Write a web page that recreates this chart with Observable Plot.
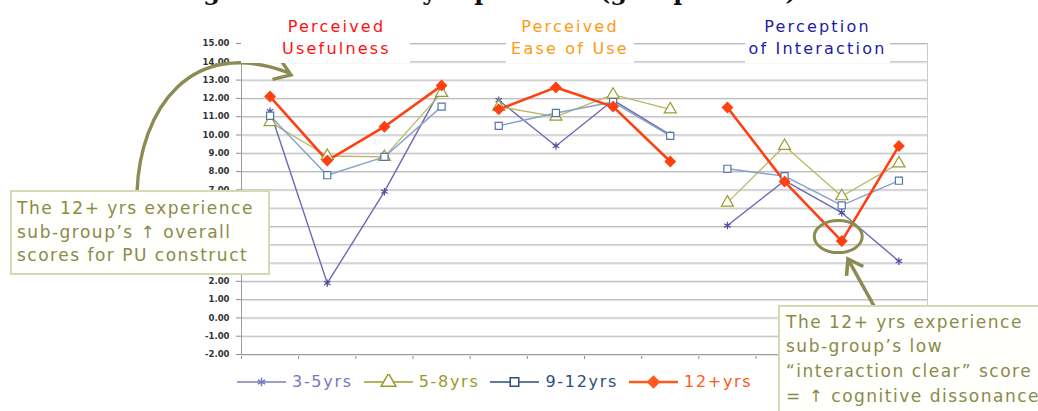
<!DOCTYPE html>
<html><head><meta charset="utf-8">
<script src="https://cdn.jsdelivr.net/npm/d3@7"></script>
<script src="https://cdn.jsdelivr.net/npm/@observablehq/plot@0.6"></script>
<style>
html,body{margin:0;padding:0;background:#fff;}
#wrap{position:relative;width:1038px;height:411px;overflow:hidden;font-family:"DejaVu Sans",Verdana,sans-serif;}
#plot{position:absolute;left:0;top:0;}
#over{position:absolute;left:0;top:0;}
.ctitle{position:absolute;background:#fff;font-size:16px;letter-spacing:2.2px;line-height:22px;text-align:center;white-space:nowrap;box-sizing:border-box;}
.note{position:absolute;background:#fffffb;border:2px solid #d8d8b6;color:#8a8a4c;font-size:17px;letter-spacing:1.5px;white-space:nowrap;box-sizing:border-box;}
#legend{position:absolute;left:237px;top:372px;display:flex;align-items:center;font-size:16px;letter-spacing:1.7px;}
#legend .item{display:flex;align-items:center;margin-right:11px;}
#legend svg{margin-right:6px;}
g[aria-label^="y-axis"] text{fill:#333;font-weight:bold;}
</style>
</head><body>
<div id="wrap">
  <div id="plot"></div>
  <svg id="over" width="1038" height="411"></svg>
</div>
<script>
// ---- data ----
const items = ["PU1","PU2","PU3","PU4","PEU1","PEU2","PEU3","PEU4","PI1","PI2","PI3","PI4"];
const itemGroup = ["PU","PU","PU","PU","PEU","PEU","PEU","PEU","PI","PI","PI","PI"];
const seriesNames = ["3-5yrs","5-8yrs","9-12yrs","12+yrs"];
const yrs3to5  = [11.3, 1.9, 6.9, 12.6, 11.9, 9.4, 11.9, 10.0, 5.05, 7.5, 5.75, 3.1];
const yrs5to8  = [10.7, 8.85, 8.8, 12.3, 11.55, 11.0, 12.2, 11.4, 6.3, 9.4, 6.65, 8.45];
const yrs9to12 = [11.05, 7.8, 8.8, 11.55, 10.5, 11.2, 11.8, 9.95, 8.15, 7.75, 6.15, 7.5];
const yrs12up  = [12.1, 8.6, 10.45, 12.7, 11.4, 12.6, 11.55, 8.55, 11.5, 7.45, 4.2, 9.4];
const yTicks = [-2,-1,0,1,2,3,4,5,6,7,8,9,10,11,12,13,14,15];
const constructTitles = [["Perceived","Usefulness"],["Perceived","Ease of Use"],["Perception","of Interaction"]];
const figureTitle = "Figure 3: Scores by experience (group means)";
const noteLeft = ["The 12+ yrs experience","sub-group\u2019s \u2191 overall","scores for PU construct"];
const noteRight = ["The 12+ yrs experience","sub-group\u2019s low","\u201Cinteraction clear\u201D score","= \u2191 cognitive dissonance"];

// ---- styles ----
const seriesValues = [yrs3to5, yrs5to8, yrs9to12, yrs12up];
const styles = [
  {line:"#6a6ab4", mark:"#4e4ea0", legend:"#7c7cc0", text:"#7878b8", symbol:"asterisk", r:3.5, fill:"none", sw:1.4, lr:4},
  {line:"#b8b866", mark:"#9c9c34", legend:"#9c9c2c", text:"#9a9a2a", symbol:"triangle", r:4.5, fill:"#fff", sw:1.3, lr:5.5},
  {line:"#86a2cc", mark:"#5676aa", legend:"#2d4d80", text:"#2d4d80", symbol:"square", r:4, fill:"#fff", sw:1.4, lr:4.8},
  {line:"#ff4010", mark:"#ff4010", legend:"#ff5a1a", text:"#ff5a1a", symbol:"diamond2", r:4.6, fill:"#ff4010", sw:2.6, lr:5.2}
];
const rows = seriesNames.map((s, si) => seriesValues[si].map((v, i) => ({series: s, item: items[i], idx: i, group: itemGroup[i], value: v})));

const marks = [
  Plot.ruleY(yTicks, {stroke: "#e4e4e4", dy: 1}),
  Plot.ruleY(yTicks, {stroke: "#b9b9b9"}),
  Plot.ruleX([items.length], {stroke: "#cccccc"}),
  Plot.ruleX([0], {stroke: "#9c9c9c"}),
  Plot.ruleY([-2], {stroke: "#9c9c9c"})
];
rows.forEach((r, si) => {
  const st = styles[si];
  marks.push(Plot.line(r, {x: d => d.idx + 0.5, y: "value", z: "group", stroke: st.line, strokeWidth: st.sw}));
});
rows.forEach((r, si) => {
  const st = styles[si];
  marks.push(Plot.dot(r, {x: d => d.idx + 0.5, y: "value", symbol: st.symbol, r: st.r, stroke: st.mark, fill: st.fill, strokeWidth: 1.2}));
});

const chart = Plot.plot({
  width: 1038, height: 411,
  marginLeft: 241, marginRight: 111, marginTop: 43, marginBottom: 57,
  x: {domain: [0, items.length], ticks: d3.range(items.length + 1), tickFormat: () => "", tickSize: 5, label: null},
  y: {domain: [-2, 15], ticks: yTicks, tickFormat: d => d.toFixed(2), tickSize: 5, tickPadding: 7, label: null},
  style: {fontFamily: "DejaVu Sans, sans-serif", fontSize: "8.5px", background: "transparent", color: "#8c8c8c"},
  marks
});
document.getElementById("plot").appendChild(chart);

const xs = chart.scale("x"), ys = chart.scale("y");
const wrap = document.getElementById("wrap");
const over = d3.select("#over");
const olive = "#8c8c52";

// clipped figure title at the very top (only descenders visible)
over.append("text").attr("x", 487).attr("y", 0).attr("text-anchor", "middle")
  .attr("font-family", "DejaVu Serif, serif").attr("font-weight", "bold").attr("font-size", 24).attr("fill", "#111")
  .text(figureTitle);

// construct titles
const titleBoxes = [
  {left: 241, width: 169, pad: 22, color: "#ff1010"},
  {left: 506, width: 128, pad: 0, color: "#ff9a10"},
  {left: 745, width: 145, pad: 0, color: "#1c1ca4"}
];
constructTitles.forEach((t, i) => {
  const b = titleBoxes[i];
  const div = document.createElement("div");
  div.className = "ctitle";
  div.style.left = b.left + "px"; div.style.width = b.width + "px";
  div.style.top = "16px"; div.style.paddingLeft = b.pad + "px"; div.style.paddingBottom = "3px";
  div.style.color = b.color;
  div.innerHTML = t.join("<br>");
  wrap.appendChild(div);
});

// ellipse around low point
const lowIdx = 10;
const cx = xs.apply(lowIdx + 0.5) - 3, cy = ys.apply(yrs12up[lowIdx]) - 4;
over.append("ellipse").attr("cx", cx).attr("cy", cy).attr("rx", 24).attr("ry", 16)
  .attr("fill", "none").attr("stroke", olive).attr("stroke-width", 3);

// arrows
function chevron(tx, ty, angle, len, spread) {
  const a1 = angle + Math.PI - spread, a2 = angle + Math.PI + spread;
  return `M${tx + len*Math.cos(a1)},${ty + len*Math.sin(a1)}L${tx},${ty}L${tx + len*Math.cos(a2)},${ty + len*Math.sin(a2)}`;
}
over.append("path").attr("d", "M137,192C140,110 190,35 289,73").attr("fill", "none").attr("stroke", olive).attr("stroke-width", 3.4);
over.append("path").attr("d", chevron(291, 75, Math.atan2(38, 99), 19, 0.6)).attr("fill", "none").attr("stroke", olive).attr("stroke-width", 3.4).attr("stroke-linejoin", "miter");
over.append("path").attr("d", "M874,306L849,261").attr("fill", "none").attr("stroke", olive).attr("stroke-width", 3.6);
over.append("path").attr("d", chevron(848, 259, Math.atan2(-46, -26), 17, 0.6)).attr("fill", "none").attr("stroke", olive).attr("stroke-width", 3.6);

// notes
function note(lines, left, top, width, height, padTop, padLeft, lh) {
  const div = document.createElement("div");
  div.className = "note";
  Object.assign(div.style, {left: left + "px", top: top + "px", width: width + "px", height: height + "px",
    paddingTop: padTop + "px", paddingLeft: padLeft + "px", lineHeight: lh + "px"});
  div.innerHTML = lines.join("<br>");
  wrap.appendChild(div);
}
note(noteLeft, 10, 190, 260, 85, 5, 5, 23.5);
note(noteRight, 778, 305, 300, 130, 2.5, 6, 24.7);

// legend
const legend = document.createElement("div");
legend.id = "legend";
seriesNames.forEach((s, si) => {
  const st = styles[si];
  const item = document.createElement("div");
  item.className = "item";
  const sym = {asterisk: d3.symbolAsterisk, triangle: d3.symbolTriangle, square: d3.symbolSquare, diamond2: d3.symbolDiamond2}[st.symbol];
  const p = d3.symbol(sym, Math.PI * st.lr * st.lr)();
  item.innerHTML = `<svg width="49" height="16"><line x1="0" x2="49" y1="8" y2="8" stroke="${st.legend}" stroke-width="${si === 3 ? 2.4 : 1.6}"/>` +
    `<path transform="translate(24.5,8)" d="${p}" fill="${si === 3 ? st.legend : (st.symbol === 'asterisk' ? 'none' : '#fff')}" stroke="${st.legend}" stroke-width="1.5"/></svg>` +
    `<span style="color:${st.text}">${s}</span>`;
  legend.appendChild(item);
});
wrap.appendChild(legend);
</script>
</body></html>
